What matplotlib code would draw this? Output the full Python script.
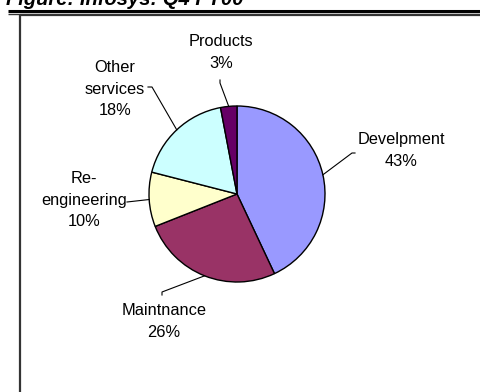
import matplotlib
matplotlib.use("Agg")
import matplotlib.pyplot as plt
import numpy as np

plt.rcParams['font.family'] = ['Liberation Sans', 'DejaVu Sans']

# Revenue split by service line
categories = ["Develpment", "Maintnance", "Re-\nengineering", "Other\nservices", "Products"]
shares = [43, 26, 10, 18, 3]
colors = ["#9999FF", "#993366", "#FFFFCC", "#CCFFFF", "#660066"]

W, H = 481, 392
fig = plt.figure(figsize=(W / 100, H / 100), dpi=100)
ax = fig.add_axes([0, 0, 1, 1])
ax.set_xlim(0, W)
ax.set_ylim(0, H)
ax.set_aspect('equal')
ax.axis('off')


def Y(y):
    # pixel row (from top) -> data y
    return H - y


# Caption, partly above the visible area
ax.text(6, Y(5), "Figure: Infosys: Q4 FY00", fontsize=14.5, fontweight='bold',
        fontstyle='italic', ha='left', va='baseline', clip_on=False)
# Double rule under the caption
ax.plot([8, W], [Y(11), Y(11)], color='black', lw=2.2, solid_capstyle='butt')
ax.plot([8, W], [Y(13.8), Y(13.8)], color='#333333', lw=1.0, solid_capstyle='butt')
# Chart frame (right and bottom sides run off the image)
ax.plot([20, 20, W + 5], [Y(H + 5), Y(14.8), Y(14.8)], color='#333333', lw=1.6)

cx, cy, r = 237, 194, 88
wedges, _ = ax.pie(shares, colors=colors, startangle=90, counterclock=False,
                   center=(cx, Y(cy)), radius=r,
                   wedgeprops=dict(edgecolor='black', linewidth=1.0))
ax.set_xlim(0, W)
ax.set_ylim(0, H)

line_gap = 23  # pixels between label lines

# Label anchors: text centre x, first-line y, leader end points
label_pos = {
    "Develpment": dict(xy=(401, 139), lead=[(355, 153), (352, 153)]),
    "Maintnance": dict(xy=(164, 310), lead=[(162, 295), (162, 292)]),
    "Re-\nengineering": dict(xy=(84, 177), lead=[(127, 202)]),
    "Other\nservices": dict(xy=(115, 66), lead=[(148, 87), (152, 87)]),
    "Products": dict(xy=(221, 41), lead=[(220, 80), (220, 83)]),
}

for w, name, val in zip(wedges, categories, shares):
    ang = np.deg2rad((w.theta1 + w.theta2) / 2)
    ex = cx + r * np.cos(ang)
    ey = cy - r * np.sin(ang)
    p = label_pos[name]
    pts = p['lead'] + [(ex, ey)]
    ax.plot([q[0] for q in pts], [Y(q[1]) for q in pts], color='black', lw=0.8)
    text = f"{name}\n{val}%"
    n = text.count("\n") + 1
    ymid = p['xy'][1] + (n - 1) * line_gap / 2
    ax.text(p['xy'][0], Y(ymid), text, ha='center', va='center',
            fontsize=11.8, linespacing=1.55, color='black')

fig.savefig("out.png", dpi=100)
